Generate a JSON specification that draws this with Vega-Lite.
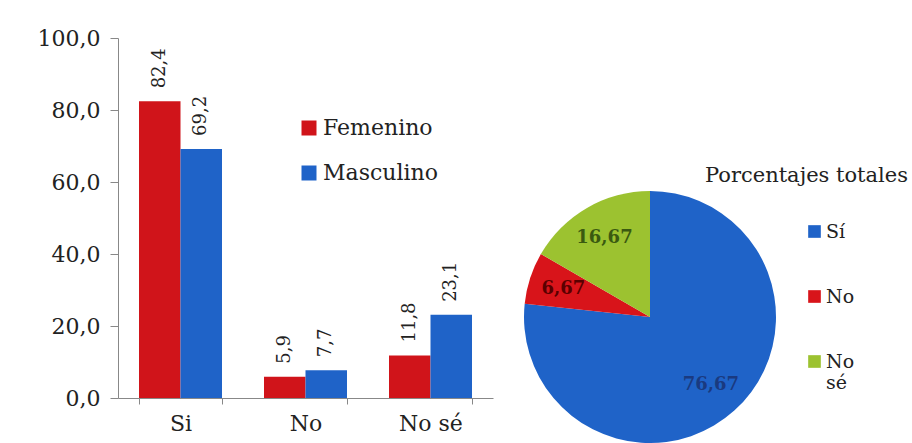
{
  "$schema": "https://vega.github.io/schema/vega-lite/v6.json",
  "background": "white",
  "padding": {"left": 37, "top": 27, "right": 0, "bottom": 0},
  "bounds": "flush",
  "spacing": 31,
  "config": {
    "view": {"stroke": null},
    "font": "DejaVu Serif",
    "axis": {"labelFont": "DejaVu Serif", "labelFontWeight": "normal"},
    "legend": {"labelFont": "DejaVu Serif", "labelFontWeight": "normal"},
    "text": {"font": "DejaVu Serif"},
    "title": {"font": "DejaVu Serif"},
    "locale": {"number": {"decimal": ",", "thousands": ".", "grouping": [3], "currency": ["", " €"]}}
  },
  "hconcat": [
    {
      "width": 375,
      "height": 360,
      "data": {"values": [
        {"Respuesta": "Si", "Sexo": "Femenino", "Porcentaje": 82.4},
        {"Respuesta": "Si", "Sexo": "Masculino", "Porcentaje": 69.2},
        {"Respuesta": "No", "Sexo": "Femenino", "Porcentaje": 5.9},
        {"Respuesta": "No", "Sexo": "Masculino", "Porcentaje": 7.7},
        {"Respuesta": "No sé", "Sexo": "Femenino", "Porcentaje": 11.8},
        {"Respuesta": "No sé", "Sexo": "Masculino", "Porcentaje": 23.1}
      ]},
      "encoding": {
        "x": {
          "field": "Respuesta", "type": "nominal", "sort": ["Si", "No", "No sé"],
          "scale": {"paddingInner": 0.336, "paddingOuter": 0.168},
          "axis": {"title": null, "labelAngle": 0, "tickBand": "extent", "labelFontSize": 22, "labelColor": "#222", "domainColor": "#888", "tickColor": "#888", "tickSize": 6, "labelPadding": 9}
        },
        "xOffset": {"field": "Sexo", "type": "nominal", "sort": ["Femenino", "Masculino"], "scale": {"paddingInner": 0, "paddingOuter": 0}},
        "y": {
          "field": "Porcentaje", "type": "quantitative", "scale": {"domain": [0, 100]},
          "axis": {"title": null, "values": [0, 20, 40, 60, 80, 100], "format": ".1f", "grid": false, "labelFontSize": 22, "labelColor": "#222", "domainColor": "#888", "tickColor": "#888", "tickSize": 8, "labelPadding": 10}
        }
      },
      "layer": [
        {
          "mark": {"type": "bar"},
          "encoding": {
            "color": {
              "field": "Sexo", "type": "nominal",
              "scale": {"domain": ["Femenino", "Masculino"], "range": ["#D0141A", "#1F63C8"]},
              "legend": {"title": null, "orient": "none", "legendX": 180, "legendY": 79, "symbolType": "square", "symbolSize": 225, "symbolStrokeWidth": 0, "labelFontSize": 22, "labelColor": "#222", "rowPadding": 23, "labelOffset": 3}
            }
          }
        },
        {
          "mark": {"type": "text", "angle": 270, "align": "left", "baseline": "middle", "dx": 13, "fontSize": 18, "color": "#222"},
          "encoding": {"text": {"field": "Porcentaje", "type": "quantitative", "format": ".1f"}}
        }
      ]
    },
    {
      "bounds": "flush",
      "spacing": 0,
      "vconcat": [
        {
          "width": 252,
          "height": 153,
          "data": {"values": []},
          "mark": {"type": "point", "opacity": 0}
        },
        {
          "width": 252,
          "height": 252,
          "title": {"text": "Porcentajes totales", "anchor": "start", "frame": "group", "dx": 181, "fontSize": 21, "fontWeight": "normal", "color": "#222", "offset": 5},
          "data": {"values": [
            {"Respuesta": "Sí", "Porcentaje": 76.67, "Orden": 1},
            {"Respuesta": "No", "Porcentaje": 6.67, "Orden": 2},
            {"Respuesta": "No sé", "Porcentaje": 16.67, "Orden": 3}
          ]},
          "encoding": {
            "theta": {"field": "Porcentaje", "type": "quantitative", "stack": true},
            "order": {"field": "Orden", "type": "quantitative"}
          },
          "layer": [
            {
              "mark": {"type": "arc"},
              "encoding": {
                "color": {
                  "field": "Respuesta", "type": "nominal", "sort": ["Sí", "No", "No sé"],
                  "scale": {"domain": ["Sí", "No", "No sé"], "range": ["#1F63C8", "#D8141A", "#9CC230"]},
                  "legend": {"title": null, "orient": "none", "legendX": 281, "legendY": 31, "symbolType": "square", "symbolSize": 160, "symbolStrokeWidth": 0, "labelFontSize": 19, "labelColor": "#222", "rowPadding": 45, "labelOffset": 2, "labelExpr": "datum.label == 'No sé' ? ['No', 'sé'] : datum.label"}
                }
              }
            },
            {
              "mark": {"type": "text", "radius": 91, "fontSize": 18, "fontWeight": "bold"},
              "encoding": {
                "text": {"field": "Porcentaje", "type": "quantitative", "format": ".2f"},
                "color": {
                  "field": "Respuesta", "type": "nominal",
                  "scale": {"domain": ["Sí", "No", "No sé"], "range": ["#1A3A80", "#5A0000", "#3A5A10"]},
                  "legend": null
                }
              }
            }
          ],
          "resolve": {"scale": {"color": "independent"}}
        }
      ]
    }
  ]
}
